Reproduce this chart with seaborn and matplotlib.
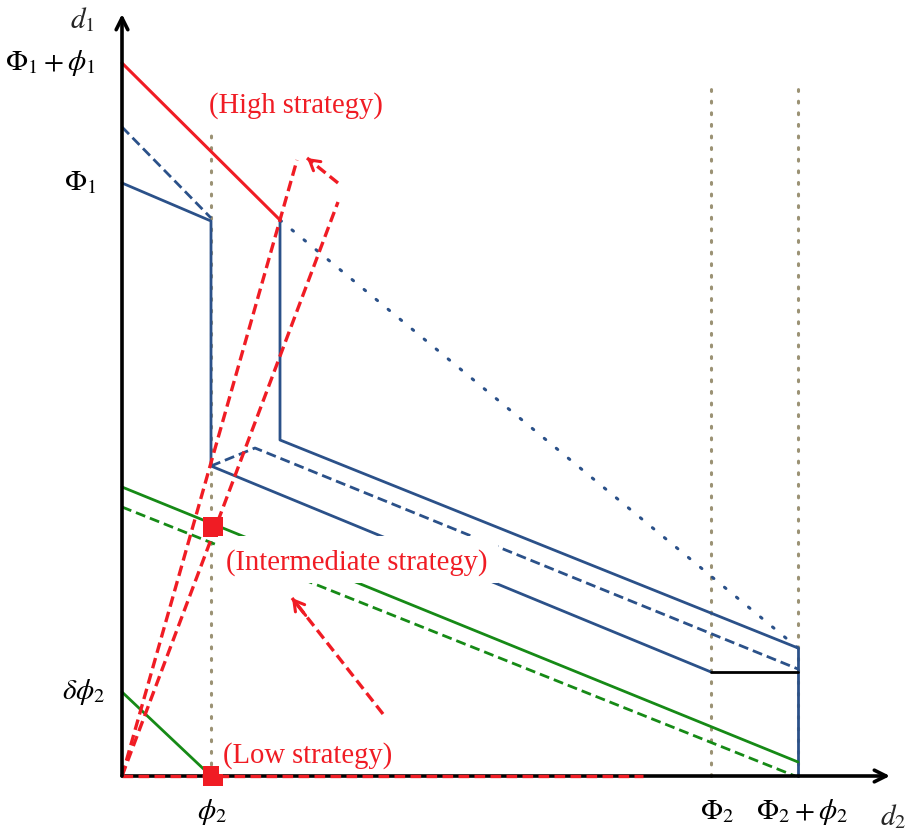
import matplotlib
matplotlib.use("Agg")
import matplotlib.pyplot as plt
from matplotlib.patches import Rectangle
import seaborn as sns
import pandas as pd

sns.set_theme(style="white")
plt.rcParams["mathtext.fontset"] = "stix"
plt.rcParams["font.family"] = ["Liberation Serif", "DejaVu Serif"]

# Key levels on each axis
x_phi2, x_Phi2, x_Phi2_phi2 = 89, 589, 676
y_Phi1_phi1, y_Phi1, y_delta_phi2 = 713, 593, 84

# Polylines: (x list, y list)
red_high_x = [0, 158]
red_high_y = [y_Phi1_phi1, 556]

blue_lower_x = [0, x_phi2, x_phi2, x_Phi2]
blue_lower_y = [y_Phi1, 555, 310, 104]

black_flat_x = [x_Phi2, x_Phi2_phi2]
black_flat_y = [104, 104]

blue_right_x = [x_Phi2_phi2, x_Phi2_phi2]
blue_right_y = [128, 0]

blue_dash_top_x = [0, x_phi2]
blue_dash_top_y = [649, 558]
blue_dash_mid_x = [x_phi2, 133, x_Phi2_phi2]
blue_dash_mid_y = [310, 328, 107]

blue_upper_x = [158, 158, x_Phi2_phi2]
blue_upper_y = [556, 336, 128]

blue_dot_x = [158, x_Phi2_phi2]
blue_dot_y = [556, 128]

green_solid_x = [0, x_Phi2_phi2]
green_solid_y = [289, 14]
green_dash_x = [0, 673]
green_dash_y = [269, 0]
green_low_x = [0, x_phi2]
green_low_y = [y_delta_phi2, 0]

red_low_x = [0, 521]
red_low_y = [0, 0]
red_ray1_x = [0, 175]
red_ray1_y = [0, 616]
red_ray2_x = [0, 216]
red_ray2_y = [0, 574]

# Arrows: tail -> head
arrow_high = ((216, 593), (185, 618))
arrow_mid = ((261, 62), (170, 178))

square_x = [91, 91]
square_y = [249, 0]

guide_x = [x_phi2, x_Phi2, x_Phi2_phi2]
guide_top = [649, 691, 691]

y_tick_vals = [y_Phi1_phi1, y_Phi1, y_delta_phi2]
y_tick_labels = [r"$\Phi_1+\phi_1$", r"$\Phi_1$", r"$\delta\phi_2$"]
y_tick_right = [-26, -25, -17]
x_tick_vals = [x_phi2 + 1, x_Phi2 + 6, x_Phi2_phi2 + 4]
x_tick_labels = [r"$\phi_2$", r"$\Phi_2$", r"$\Phi_2+\phi_2$"]

BLUE = "#2b5189"
RED = "#f01c24"
GREEN = "#168a16"
OLIVE = "#9b9274"

fig = plt.figure(figsize=(9.08, 8.34), dpi=100)
ax = fig.add_axes([0, 0, 1, 1])
ax.set_xlim(-122, 786)
ax.set_ylim(-58, 776)
ax.axis("off")


def seg(xs, ys, color, lw=2.0, ls="-", z=3, **kw):
    df = pd.DataFrame({"x": xs, "y": ys, "i": range(len(xs))})
    sns.lineplot(data=df, x="x", y="y", sort=False, estimator=None,
                 color=color, lw=lw, linestyle=ls, ax=ax, zorder=z, **kw)


dotted = (0, (0.6, 3.2))
dashed_red = (0, (3.2, 1.6))
dashed_blue = (0, (3.6, 1.8))

# Vertical guides
for gx, gt in zip(guide_x, guide_top):
    seg([gx, gx], [0, gt], OLIVE, lw=2.2, ls=dotted, z=1,
        dash_capstyle="round")

seg(blue_dot_x, blue_dot_y, BLUE, lw=2.2, ls=(0, (0.6, 4.5)), z=2,
    dash_capstyle="round")
seg(blue_lower_x, blue_lower_y, BLUE)
seg(blue_upper_x, blue_upper_y, BLUE)
seg(blue_right_x, blue_right_y, BLUE)
seg(black_flat_x, black_flat_y, "black")
seg(blue_dash_top_x, blue_dash_top_y, BLUE, ls=dashed_blue)
seg(blue_dash_mid_x, blue_dash_mid_y, BLUE, ls=dashed_blue)
seg(green_solid_x, green_solid_y, GREEN)
seg(green_dash_x, green_dash_y, GREEN, ls=dashed_blue)
seg(green_low_x, green_low_y, GREEN)
seg(red_high_x, red_high_y, RED, lw=2.2, z=4)
seg(red_low_x, red_low_y, RED, lw=2.4, ls=dashed_red, z=5)
seg(red_ray1_x, red_ray1_y, RED, lw=2.4, ls=dashed_red, z=4)
seg(red_ray2_x, red_ray2_y, RED, lw=2.4, ls=dashed_red, z=4)

for (tx, ty), (hx, hy) in (arrow_high, arrow_mid):
    seg([tx, hx], [ty, hy], RED, lw=2.4, ls=dashed_red, z=4)
    dx, dy = hx - tx, hy - ty
    ax.annotate("", xy=(hx, hy), xytext=(hx - 0.15 * dx, hy - 0.15 * dy),
                arrowprops=dict(arrowstyle="->,head_length=0.6,head_width=0.35",
                                color=RED, lw=2.2, shrinkA=0, shrinkB=0),
                zorder=4)

sns.scatterplot(x=square_x, y=square_y, marker="s", s=190, color=RED,
                edgecolor=RED, linewidth=0, ax=ax, zorder=6)

# Axes with arrow heads
ax.annotate("", xy=(0, 762), xytext=(0, 0),
            arrowprops=dict(arrowstyle="->,head_length=0.7,head_width=0.35",
                            color="black", lw=2.6, shrinkA=0, shrinkB=0),
            zorder=7)
ax.annotate("", xy=(768, 0), xytext=(0, 0),
            arrowprops=dict(arrowstyle="->,head_length=0.7,head_width=0.35",
                            color="black", lw=2.6, shrinkA=0, shrinkB=0),
            zorder=3)

# Strategy labels
LABEL_FS = 20.6
box = dict(boxstyle="square,pad=0.15", facecolor="white", edgecolor="none")
ax.text(174, 670, "(High strategy)", color=RED, fontsize=LABEL_FS,
        ha="center", va="center", bbox=box, zorder=8)
ax.add_patch(Rectangle((96, 193), 280, 47, facecolor="white",
                       edgecolor="none", zorder=7.5))
ax.text(235, 213, "(Intermediate strategy)", color=RED, fontsize=LABEL_FS,
        ha="center", va="center", zorder=8)
ax.text(186, 20, "(Low strategy)", color=RED, fontsize=LABEL_FS,
        ha="center", va="center", bbox=box, zorder=8)

# Tick labels
for v, lab, r in zip(y_tick_vals, y_tick_labels, y_tick_right):
    ax.text(r, v, lab, fontsize=21, ha="right", va="center", color="black")
for v, lab in zip(x_tick_vals, x_tick_labels):
    ax.text(v, -36, lab, fontsize=21, ha="center", va="center", color="black")
ax.text(-40, 756, r"$d_1$", fontsize=21, ha="center", va="center")
ax.text(771, -41, r"$d_2$", fontsize=21, ha="center", va="center")

fig.savefig("out.png", dpi=100)
